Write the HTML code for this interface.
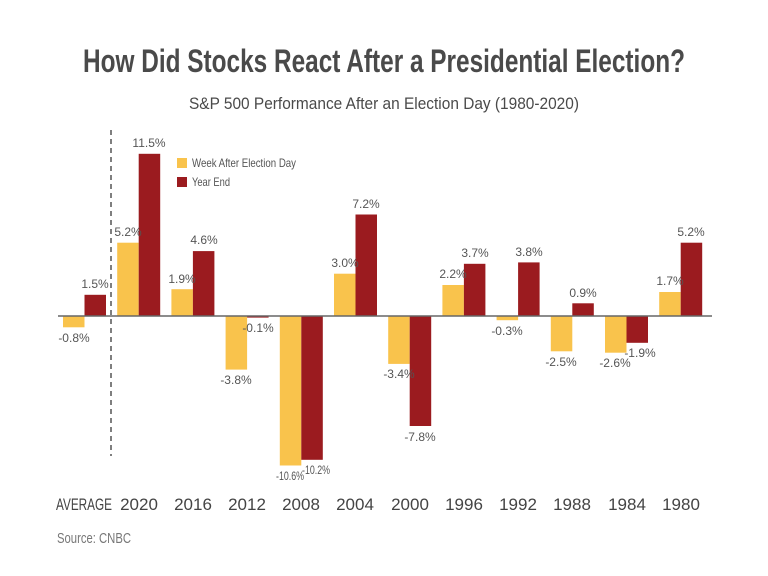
<!DOCTYPE html><html><head><meta charset="utf-8"><style>
html,body{margin:0;padding:0;background:#fff;width:768px;height:576px;overflow:hidden}
text{font-family:"Liberation Sans Narrow","Liberation Sans",sans-serif}
</style></head><body>
<svg width="768" height="576" viewBox="0 0 768 576" xmlns="http://www.w3.org/2000/svg">
<text x="384" y="72" text-anchor="middle" font-size="32" font-weight="bold" fill="#4a4a4a" textLength="602" lengthAdjust="spacingAndGlyphs">How Did Stocks React After a Presidential Election?</text>
<text x="384" y="109" text-anchor="middle" font-size="17" fill="#4a4a4a" textLength="390" lengthAdjust="spacingAndGlyphs">S&amp;P 500 Performance After an Election Day (1980-2020)</text>
<line x1="111" y1="130" x2="111" y2="456" stroke="#555" stroke-width="1.5" stroke-dasharray="5,4"/>
<rect x="177" y="158" width="10" height="10" fill="#F9C34C"/>
<text x="192" y="167" font-size="12" fill="#555" textLength="104" lengthAdjust="spacingAndGlyphs">Week After Election Day</text>
<rect x="177" y="177" width="10" height="10" fill="#9B1B1F"/>
<text x="192" y="186" font-size="12" fill="#555" textLength="38" lengthAdjust="spacingAndGlyphs">Year End</text>
<g fill="#F9C34C">
<rect x="63" y="316" width="21.5" height="11.3"/>
<rect x="117.2" y="242.7" width="21.5" height="73.3"/>
<rect x="171.4" y="289.2" width="21.5" height="26.8"/>
<rect x="225.6" y="316" width="21.5" height="53.6"/>
<rect x="279.8" y="316" width="21.5" height="149.5"/>
<rect x="334" y="273.7" width="21.5" height="42.3"/>
<rect x="388.2" y="316" width="21.5" height="47.9"/>
<rect x="442.4" y="285" width="21.5" height="31"/>
<rect x="496.6" y="316" width="21.5" height="4.2"/>
<rect x="550.8" y="316" width="21.5" height="35.3"/>
<rect x="605" y="316" width="21.5" height="36.7"/>
<rect x="659.2" y="292" width="21.5" height="24"/>
</g>
<g fill="#9B1B1F">
<rect x="84.5" y="294.8" width="21.5" height="21.2"/>
<rect x="138.7" y="153.8" width="21.5" height="162.2"/>
<rect x="192.9" y="251.1" width="21.5" height="64.9"/>
<rect x="247.1" y="316" width="21.5" height="1.6"/>
<rect x="301.3" y="316" width="21.5" height="143.8"/>
<rect x="355.5" y="214.5" width="21.5" height="101.5"/>
<rect x="409.7" y="316" width="21.5" height="110"/>
<rect x="463.9" y="263.8" width="21.5" height="52.2"/>
<rect x="518.1" y="262.4" width="21.5" height="53.6"/>
<rect x="572.3" y="303.3" width="21.5" height="12.7"/>
<rect x="626.5" y="316" width="21.5" height="26.8"/>
<rect x="680.7" y="242.7" width="21.5" height="73.3"/>
</g>
<line x1="58" y1="316" x2="712" y2="316" stroke="#666" stroke-width="1.5"/>
<g font-size="12" fill="#555" text-anchor="middle">
<text x="74" y="342">-0.8%</text><text x="95" y="288">1.5%</text>
<text x="128" y="236">5.2%</text><text x="149" y="147">11.5%</text>
<text x="182" y="283">1.9%</text><text x="204" y="244">4.6%</text>
<text x="236" y="384">-3.8%</text><text x="258" y="332">-0.1%</text>
<text x="290" y="480" textLength="28" lengthAdjust="spacingAndGlyphs">-10.6%</text><text x="316" y="474" textLength="28" lengthAdjust="spacingAndGlyphs">-10.2%</text>
<text x="345" y="267">3.0%</text><text x="366" y="208">7.2%</text>
<text x="399" y="378">-3.4%</text><text x="420" y="441">-7.8%</text>
<text x="453" y="278">2.2%</text><text x="475" y="257">3.7%</text>
<text x="507" y="335">-0.3%</text><text x="529" y="256">3.8%</text>
<text x="561" y="366">-2.5%</text><text x="583" y="297">0.9%</text>
<text x="615" y="367">-2.6%</text><text x="640" y="357">-1.9%</text>
<text x="670" y="285">1.7%</text><text x="691" y="236">5.2%</text>
</g>
<g font-size="17" fill="#444" text-anchor="middle">
<text x="84" y="510" textLength="56" lengthAdjust="spacingAndGlyphs">AVERAGE</text>
<text x="139" y="510">2020</text><text x="193" y="510">2016</text><text x="247" y="510">2012</text>
<text x="301" y="510">2008</text><text x="355" y="510">2004</text><text x="410" y="510">2000</text>
<text x="464" y="510">1996</text><text x="518" y="510">1992</text><text x="572" y="510">1988</text>
<text x="627" y="510">1984</text><text x="681" y="510">1980</text>
</g>
<text x="57" y="543" font-size="15" fill="#777" textLength="74" lengthAdjust="spacingAndGlyphs">Source: CNBC</text>
</svg>
</body></html>
